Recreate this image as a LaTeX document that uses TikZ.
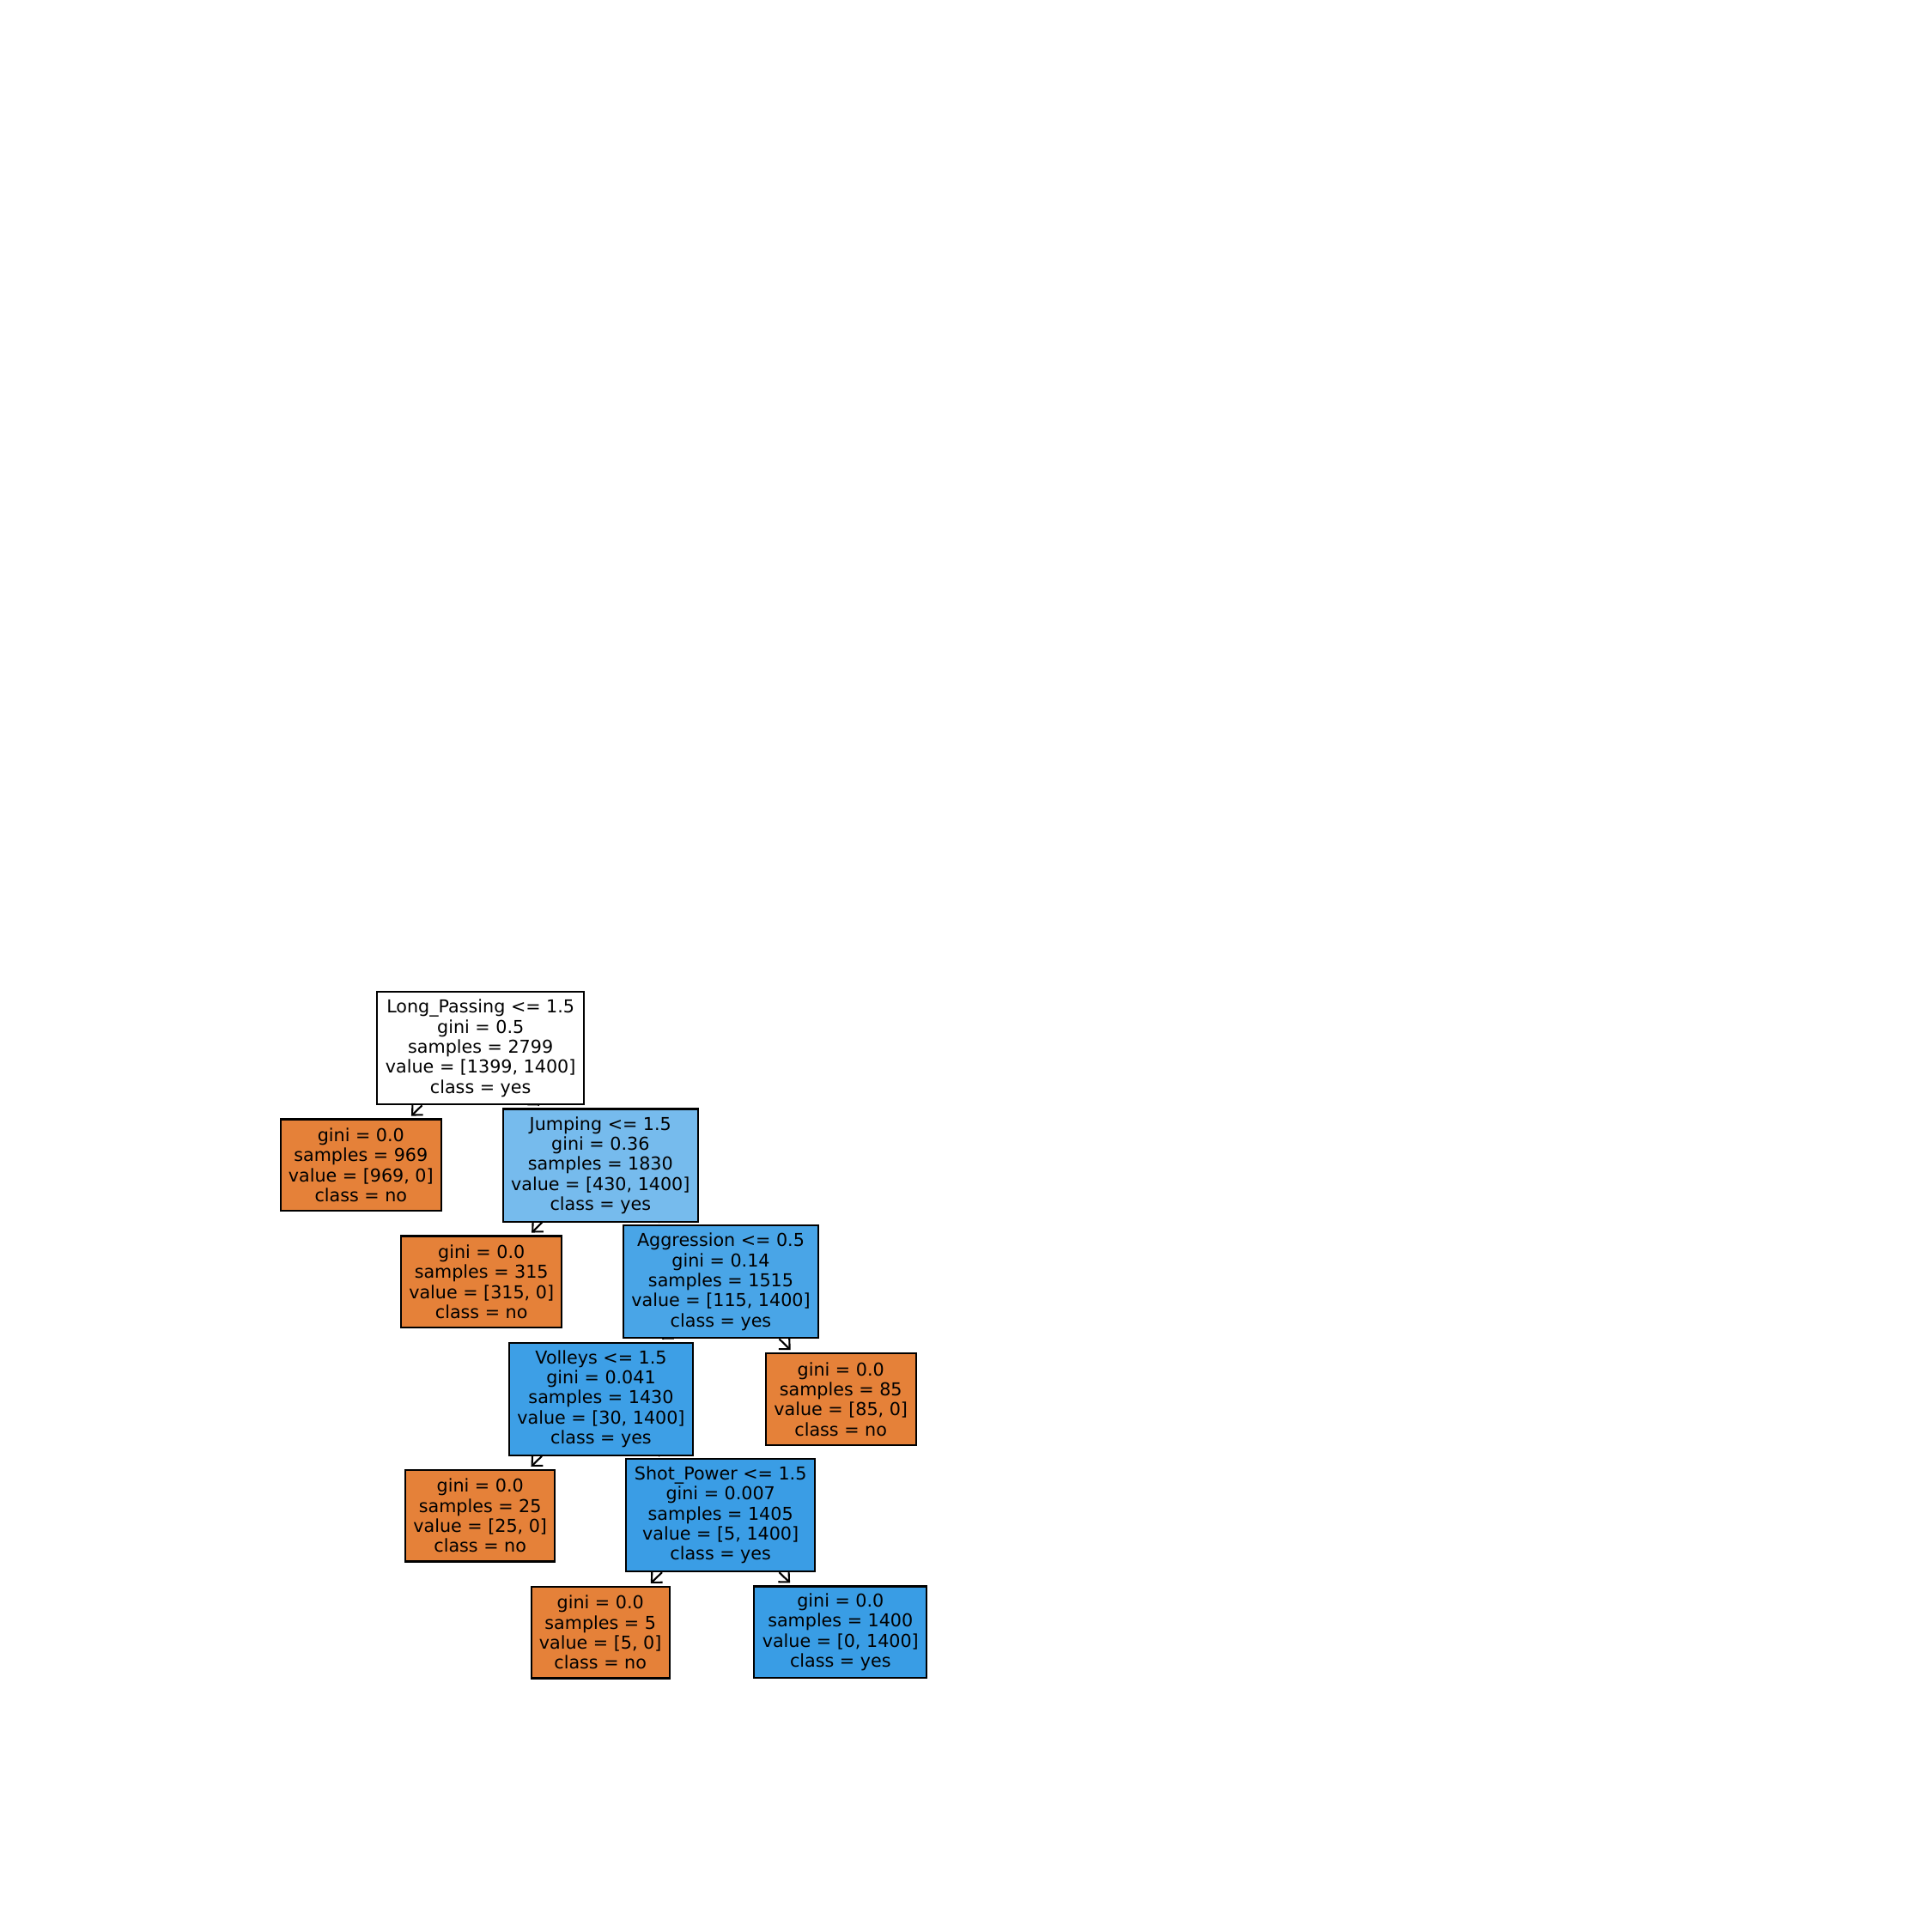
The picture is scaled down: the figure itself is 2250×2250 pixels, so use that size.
\documentclass[tikz,border=0pt]{standalone}
\usepackage{fontspec}
\setmainfont{DejaVu Sans}
\usetikzlibrary{arrows.meta}
\pgfdeclarelayer{background}
\pgfsetlayers{background,main}
\definecolor{orng}{HTML}{E58139}
\definecolor{blu}{HTML}{399DE5}
\definecolor{bluJ}{HTML}{76BBED}
\definecolor{bluA}{HTML}{49A5E7}
\definecolor{bluV}{HTML}{3D9FE6}
\definecolor{bluS}{HTML}{3A9DE5}
\tikzset{
  treenode/.style={draw=black, line width=0.6pt, align=center, inner xsep=0pt, inner ysep=0pt,
    font=\fontsize{5.88pt}{6.63pt}\selectfont},
  splitnode/.style={treenode, minimum height=1.31cm},
  leafnode/.style={treenode, minimum height=1.065cm},
  edge/.style={draw=black, line width=0.6pt, -{Straight Barb[length=2.6pt,width=5pt]}, shorten >=1.2pt}
}
\begin{document}
\begin{tikzpicture}[x=0.01cm,y=-0.01cm]
\useasboundingbox (0,0) rectangle (2250,2250);
\node[splitnode, fill=white, minimum width=2.407cm] (root) at (559.7,1220.7)
  {Long\_Passing <= 1.5\\gini = 0.5\\samples = 2799\\value = [1399, 1400]\\class = yes};
\node[leafnode, fill=orng, minimum width=1.873cm] (l969) at (420.3,1356.8)
  {gini = 0.0\\samples = 969\\value = [969, 0]\\class = no};
\node[splitnode, fill=bluJ, minimum width=2.273cm] (jump) at (699.3,1357)
  {Jumping <= 1.5\\gini = 0.36\\samples = 1830\\value = [430, 1400]\\class = yes};
\node[leafnode, fill=orng, minimum width=1.873cm] (l315) at (560.7,1492.8)
  {gini = 0.0\\samples = 315\\value = [315, 0]\\class = no};
\node[splitnode, fill=bluA, minimum width=2.276cm] (aggr) at (839.5,1492.7)
  {Aggression <= 0.5\\gini = 0.14\\samples = 1515\\value = [115, 1400]\\class = yes};
\node[splitnode, fill=bluV, minimum width=2.14cm] (voll) at (700,1629.2)
  {Volleys <= 1.5\\gini = 0.041\\samples = 1430\\value = [30, 1400]\\class = yes};
\node[leafnode, fill=orng, minimum width=1.75cm] (l85) at (979.2,1629.5)
  {gini = 0.0\\samples = 85\\value = [85, 0]\\class = no};
\node[leafnode, fill=orng, minimum width=1.74cm] (l25) at (559.2,1765.2)
  {gini = 0.0\\samples = 25\\value = [25, 0]\\class = no};
\node[splitnode, fill=bluS, minimum width=2.197cm] (shot) at (839.2,1764.5)
  {Shot\_Power <= 1.5\\gini = 0.007\\samples = 1405\\value = [5, 1400]\\class = yes};
\node[leafnode, fill=orng, minimum width=1.61cm] (l5) at (699.2,1901.2)
  {gini = 0.0\\samples = 5\\value = [5, 0]\\class = no};
\node[leafnode, fill=blu, minimum width=2.01cm] (l1400) at (978.8,1900.7)
  {gini = 0.0\\samples = 1400\\value = [0, 1400]\\class = yes};
\begin{pgfonlayer}{background}
\draw[edge] (root) -- (l969);
\draw[edge] (root) -- (jump);
\draw[edge] (jump) -- (l315);
\draw[edge] (jump) -- (aggr);
\draw[edge] (aggr) -- (voll);
\draw[edge] (aggr) -- (l85);
\draw[edge] (voll) -- (l25);
\draw[edge] (voll) -- (shot);
\draw[edge] (shot) -- (l5);
\draw[edge] (shot) -- (l1400);
\end{pgfonlayer}
\end{tikzpicture}
\end{document}
